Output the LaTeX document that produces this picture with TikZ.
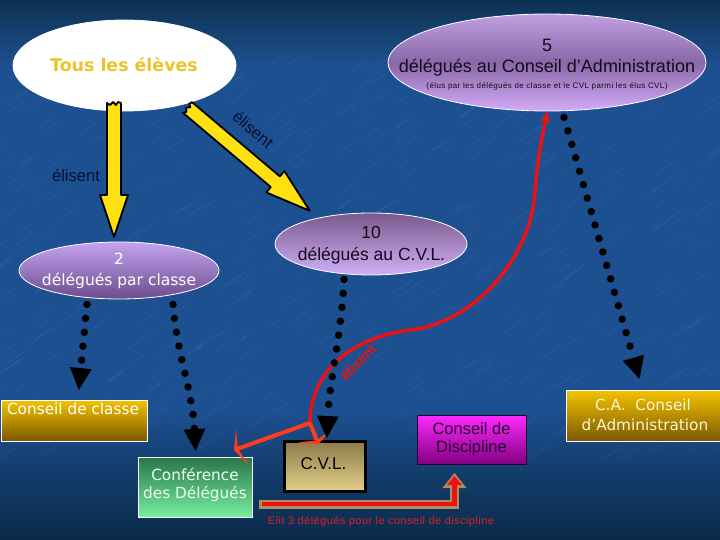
\documentclass[tikz,border=0pt]{standalone}
\usepackage{fontspec}
\setmainfont{Liberation Sans}
\newfontfamily\dvs{DejaVu Sans}
\usetikzlibrary{arrows.meta,shapes.geometric}
\definecolor{bgT}{HTML}{0D3150}
\definecolor{bgM}{HTML}{1D5090}
\definecolor{bgB2}{HTML}{133C6A}
\definecolor{bgB}{HTML}{0B2A4A}
\definecolor{tousyellow}{HTML}{F0C22A}
\definecolor{darktext}{HTML}{140A1C}
\definecolor{navytext}{HTML}{0A1030}
\definecolor{arrowyellow}{HTML}{FFE010}
\definecolor{curvered}{HTML}{EC1212}
\definecolor{branchred}{HTML}{FF3C1C}
\definecolor{bartan}{HTML}{A88E62}
\definecolor{barred}{HTML}{F01010}
\definecolor{textred}{HTML}{D8202A}
\definecolor{streak}{HTML}{6A9AD8}
\pgfdeclareverticalshading{bgshade}{100bp}{color(0bp)=(bgB); color(25bp)=(bgB); color(31bp)=(bgB2); color(37bp)=(bgM); color(69bp)=(bgM); color(75bp)=(bgT); color(100bp)=(bgT)}
\newcommand\yellowarrowshape[2]{%
  \filldraw[yarrow] (0,-7) -- ({#1-#2},-7) -- ({#1-#2},-14) -- (#1,0) -- ({#1-#2},14) -- ({#1-#2},7) -- (0,7) -- (2,4) -- (-1,1) -- (2,-2) -- (-1,-4) -- cycle;}
\begin{document}
\begin{tikzpicture}[x=1pt,y=-1pt,
  ell/.style={ellipse,draw=white,line width=0.8pt,inner sep=0pt},
  panel/.style={rectangle,inner sep=0pt,anchor=north west},
  txt/.style={anchor=mid,inner sep=0pt},
  yarrow/.style={fill=arrowyellow,draw=black,line width=1.8pt,line join=round},
  dotarrow/.style={draw=black,line width=7.5pt,dash pattern=on 0pt off 14pt,line cap=round,-{Triangle[length=22pt,width=22pt,line width=0pt]}},
  redline/.style={draw=curvered,line width=3.5pt},
  branch/.style={draw=branchred,line width=4pt,-{Stealth[length=9pt,width=38pt,inset=5pt,line width=0pt]}},
  dvsfont/.style={font=\dvs\fontsize{15.3}{18}\selectfont},
  arfont/.style={font=\fontsize{17.5}{20}\selectfont}]
\useasboundingbox (0,0) rectangle (720,540);
\shade[shading=bgshade] (0,0) rectangle (720,540);
% water texture
\pgfmathsetseed{11}
\foreach \i in {1,...,450}{
  \pgfmathsetmacro\xx{rnd*740-10}
  \pgfmathsetmacro\yy{60+rnd*400}
  \pgfmathsetmacro\ll{8+rnd*16}
  \draw[streak,opacity=0.10,line width=1.2pt,line cap=round] (\xx,\yy) -- ++(\ll,{-0.7*\ll});
}

% ellipses
\node[ell,minimum width=223pt,minimum height=91pt,fill=white] (tous) at (124.5,65.5) {};
\node[ell,minimum width=318pt,minimum height=97pt,top color={rgb,255:red,192;green,160;blue,224},bottom color={rgb,255:red,212;green,170;blue,248},middle color={rgb,255:red,136;green,104;blue,168}] (dp5) at (547,62.5) {};
\node[ell,minimum width=200pt,minimum height=57pt,top color={rgb,255:red,196;green,164;blue,240},bottom color={rgb,255:red,108;green,76;blue,140}] (dp2) at (119,270.5) {};
\node[ell,minimum width=192pt,minimum height=62pt,top color={rgb,255:red,122;green,90;blue,138},bottom color={rgb,255:red,208;green,176;blue,248}] (dp10) at (371,244) {};

% boxes
\node[panel,minimum width=146.5pt,minimum height=41pt,draw=white,line width=1pt,top color={rgb,255:red,242;green,194;blue,0},bottom color={rgb,255:red,122;green,88;blue,0}] (cc) at (0.5,400) {};
\node[panel,minimum width=114pt,minimum height=60pt,draw=white,line width=1pt,top color={rgb,255:red,42;green,118;blue,74},bottom color={rgb,255:red,118;green,240;blue,160}] (conf) at (138,457) {};
\node[panel,minimum width=81pt,minimum height=50pt,draw=black,line width=2.5pt,top color={rgb,255:red,140;green,122;blue,74},bottom color={rgb,255:red,228;green,208;blue,136}] (cvl) at (283,440) {};
\node[panel,minimum width=109pt,minimum height=49pt,draw={rgb,255:red,26;green,10;blue,48},line width=1pt,top color={rgb,255:red,255;green,40;blue,255},bottom color={rgb,255:red,128;green,0;blue,128}] (disc) at (417,415) {};
\node[panel,minimum width=156pt,minimum height=51pt,draw=white,line width=1pt,top color={rgb,255:red,242;green,194;blue,0},bottom color={rgb,255:red,122;green,88;blue,0}] (ca) at (566,390) {};

% yellow arrows
\begin{scope}[shift={(114,103)},rotate=-90]
  \yellowarrowshape{134}{42}
\end{scope}
\begin{scope}[shift={(187.5,107.5)},rotate=-40.2]
  \yellowarrowshape{160}{45}
\end{scope}

% red curve and branches
\coordinate (J) at (310,423);
\draw[redline,-{Triangle[length=10pt,width=9pt,line width=0pt]}] (J) .. controls (310,372) and (350,338) .. (410,330) .. controls (470,324) and (530,262) .. (535,192) .. controls (538,150) and (544,130) .. (dp5.south);
\draw[branch] (J) -- ([xshift=-19pt,yshift=7pt]conf.north east);
\draw[branch] (J) -- ([xshift=-6.5pt,yshift=-4pt]cvl.north);

% bottom bar to Conseil de Discipline
\coordinate (barL) at (259,504);
\draw[draw=bartan,line width=9pt,-{Triangle[length=15pt,width=24pt,line width=0pt]}] (barL) -| ([xshift=-17.5pt,yshift=-8pt]disc.south);
\draw[draw=barred,line width=4.5pt,-{Triangle[length=9pt,width=15pt,line width=0pt]}] ([xshift=2.5pt]barL) -| ([xshift=-17.5pt,yshift=-11pt]disc.south);

% dotted arrows
\draw[dotarrow] ([xshift=-32pt,yshift=-5pt]dp2.south) -- ([xshift=4.5pt,yshift=10pt]cc.north);
\draw[dotarrow] ([xshift=54pt,yshift=-5pt]dp2.south) .. controls +(4,50) and +(-3,-60) .. ([yshift=6pt]conf.north);
\draw[dotarrow] ([xshift=-27pt,yshift=-4pt]dp10.south) .. controls +(-3,60) and +(3,-60) .. ([xshift=2pt,yshift=2pt]cvl.north);
\draw[dotarrow] ([xshift=17pt,yshift=-6pt]dp5.south) -- ([xshift=-5pt,yshift=11pt]ca.north);

% texts
\node[txt,font=\dvs\bfseries\fontsize{17.4}{20}\selectfont,text=tousyellow] (tousT) at (124,69) {Tous les élèves};
\node[txt,font=\fontsize{18}{20}\selectfont,text=darktext] (t5a) at (547,48.5) {5};
\node[txt,font=\fontsize{18}{20}\selectfont,text=darktext] (t5b) at (547,70) {délégués au Conseil d’Administration};
\node[txt,font=\fontsize{8}{9}\selectfont\addfontfeature{LetterSpace=5},text=darktext] (t5c) at (547,86) {(élus par les délégués de classe et le CVL parmi les élus CVL)};
\node[txt,font=\dvs\fontsize{15.5}{18}\selectfont,text=white] (t2a) at (119,261.5) {2};
\node[txt,font=\dvs\fontsize{15.5}{18}\selectfont,text=white] (t2b) at (119,283) {délégués par classe};
\node[txt,arfont,text=darktext] (t10a) at (371,235.5) {10};
\node[txt,arfont,text=darktext] (t10b) at (371.5,258) {délégués au C.V.L.};
\node[txt,font=\fontsize{16.5}{18}\selectfont,text=navytext] (el1) at (76,179) {élisent};
\node[txt,font=\fontsize{16.5}{18}\selectfont,text=navytext,rotate=-41] (el2) at (251,132) {élisent};
\node[txt,font=\bfseries\fontsize{14}{16}\selectfont,text=curvered,rotate=46] (el3) at (360,364) {élisent};
\node[txt,dvsfont,text=white] (tcc) at (73,411.5) {Conseil de classe};
\node[txt,dvsfont,text={rgb,255:red,236;green,255;blue,236}] (tconfa) at (195,478) {Conférence};
\node[txt,dvsfont,text={rgb,255:red,236;green,255;blue,236}] (tconfb) at (195,495.5) {des Délégués};
\node[txt,font=\fontsize{17}{20}\selectfont,text=black] (tcvl) at (323.5,467) {C.V.L.};
\node[txt,font=\fontsize{16.5}{20}\selectfont,text={rgb,255:red,40;green,0;blue,50}] (tdisca) at (471.5,432) {Conseil de};
\node[txt,font=\fontsize{16.5}{20}\selectfont,text={rgb,255:red,40;green,0;blue,50}] (tdiscb) at (471.5,450) {Discipline};
\node[txt,dvsfont,text={rgb,255:red,255;green,244;blue,210}] (tcaa) at (643,407.5) {C.A.\ \ Conseil};
\node[txt,dvsfont,text={rgb,255:red,255;green,244;blue,210}] (tcab) at (645,428) {d’Administration};
\node[txt,font=\fontsize{11}{13}\selectfont\addfontfeature{LetterSpace=4},text=textred] (elit) at (381,522) {Elit 3 délégués pour le conseil de discipline};
\end{tikzpicture}
\end{document}
